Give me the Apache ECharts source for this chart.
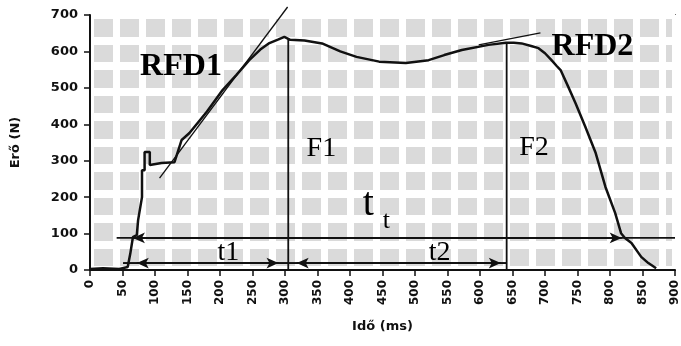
<!DOCTYPE html>
<html>
<head>
<meta charset="utf-8">
<script src="https://cdn.jsdelivr.net/npm/echarts@6/dist/echarts.min.js"></script>
<style>
  html, body { margin: 0; padding: 0; background: #fff; }
  #chart { width: 681px; height: 346px; }
</style>
</head>
<body>
<div id="chart"></div>
<script>
// force curve (time in ms, force in N)
var timeMs = [0, 20, 45, 58, 62, 66, 72, 74, 80, 80, 84, 84, 92, 92, 110, 130, 141, 153, 180, 204, 225, 245,
  262, 276, 290, 299, 308, 330, 357, 385, 410, 445, 486, 521, 545, 572, 613, 640, 652, 664, 680, 690,
  700, 710, 718, 724, 736, 747, 762, 778, 793, 808, 817, 823, 833, 848, 859, 871];
var forceN = [3, 5, 3, 8, 45, 90, 96, 137, 200, 274, 274, 324, 324, 288, 294, 296, 357, 376, 435, 494, 535, 576,
  605, 623, 633, 640, 632, 630, 622, 600, 585, 572, 568, 576, 590, 604, 618, 624, 624, 622, 614, 609,
  595, 576, 560, 549, 502, 458, 393, 321, 228, 156, 101, 88, 74, 36, 19, 5];

// tangent lines
var rfd1Line = [[107, 252], [304, 722]];
var rfd2Line = [[598, 618], [693, 651]];

// F1 / F2 markers
var f1Line = [[305, 0], [305, 636]];
var f2Line = [[641, 0], [641, 625]];

// time spans
var ttBase = [[41, 88], [900, 88]];
var ttArrow = [66, 818, 88];
var tBase = [[51, 19], [641, 19]];
var t1Arrow = [72, 290, 19];
var t2Arrow = [318, 632, 19];

// annotations: [x, y, text, style]
var notes = [
  [140, 557, 'RFD1', 'big'],
  [773, 612, 'RFD2', 'big'],
  [356, 332, 'F1', 'mid'],
  [683, 335, 'F2', 'mid'],
  [428, 180, 't', 'tt'],
  [456, 135, 't', 'sub'],
  [213, 49, 't1', 'small'],
  [538, 49, 't2', 'small']
];

var xTicks = { min: 0, max: 900, step: 50 };
var yTicks = { min: 0, max: 700, step: 100 };

var serif = 'Liberation Serif';
var noteStyles = {
  big: { fontFamily: serif, fontWeight: 'bold', fontSize: 32 },
  mid: { fontFamily: serif, fontWeight: 'normal', fontSize: 28 },
  tt: { fontFamily: serif, fontWeight: 'normal', fontSize: 40 },
  sub: { fontFamily: serif, fontWeight: 'normal', fontSize: 26 },
  small: { fontFamily: serif, fontWeight: 'normal', fontSize: 28 }
};

var curve = timeMs.map(function (t, i) { return [t, forceN[i]]; });

function plainLine(data, width) {
  return {
    type: 'line', data: data, symbol: 'none', silent: true, z: 3,
    lineStyle: { color: '#111', width: width || 1.5 }
  };
}

function arrowLine(data, a) {
  var s = plainLine(data, 1.8);
  s.markLine = {
    silent: true,
    symbol: ['arrow', 'arrow'],
    symbolSize: [8, 12],
    label: { show: false },
    lineStyle: { color: '#111', width: 1.8, type: 'solid' },
    data: [[{ coord: [a[0], a[2]] }, { coord: [a[1], a[2]] }]]
  };
  return s;
}

var myChart = echarts.init(document.getElementById('chart'));

var axisFont = { fontFamily: 'DejaVu Sans', fontWeight: 'bold', color: '#111' };

var option = {
  backgroundColor: '#fff',
  animation: false,
  grid: {
    left: 90, right: 4, top: 15, bottom: 76,
    show: true, backgroundColor: '#dadada', borderColor: '#111', borderWidth: 1.5
  },
  xAxis: [{
    type: 'value', min: xTicks.min, max: xTicks.max, interval: xTicks.step,
    name: 'Idő (ms)', nameLocation: 'middle', nameGap: 50,
    nameTextStyle: Object.assign({ fontSize: 13 }, axisFont),
    axisLine: { lineStyle: { color: '#111', width: 2 } },
    axisTick: { length: 6, lineStyle: { color: '#111', width: 1.5 } },
    axisLabel: Object.assign({ rotate: 90, fontSize: 12, margin: 10 }, axisFont),
    splitLine: { show: false }
  }, {
    type: 'value', min: 0, max: 900, interval: 40, position: 'top',
    axisLine: { show: false }, axisTick: { show: false }, axisLabel: { show: false },
    splitLine: { show: true, lineStyle: { color: '#fff', width: 7 } }
  }],
  yAxis: [{
    type: 'value', min: yTicks.min, max: yTicks.max, interval: yTicks.step,
    name: 'Erő (N)', nameLocation: 'middle', nameGap: 68, nameRotate: 90,
    nameTextStyle: Object.assign({ fontSize: 13 }, axisFont),
    axisLine: { show: true, lineStyle: { color: '#111', width: 2 } },
    axisTick: { show: true, length: 6, lineStyle: { color: '#111', width: 1.5 } },
    axisLabel: Object.assign({ fontSize: 13, margin: 12 }, axisFont),
    splitLine: { show: false }
  }, {
    type: 'value', min: 0, max: 700, interval: 70, position: 'right',
    axisLine: { show: false }, axisTick: { show: false }, axisLabel: { show: false },
    splitLine: { show: true, lineStyle: { color: '#fff', width: 8 } }
  }],
  series: [
    {
      type: 'line', data: curve, symbol: 'none', silent: true, z: 4,
      lineStyle: { color: '#111', width: 2.5 }
    },
    Object.assign(plainLine(rfd1Line, 1.3), { clip: false }),
    Object.assign(plainLine(rfd2Line, 1.3), { clip: false }),
    plainLine(f1Line, 1.8),
    plainLine(f2Line, 1.8),
    arrowLine(ttBase, ttArrow),
    arrowLine(tBase, t1Arrow),
    arrowLine(tBase, t2Arrow),
    {
      type: 'scatter', symbolSize: 0, silent: true, z: 5,
      itemStyle: { opacity: 1 },
      data: notes.map(function (n) {
        return {
          value: [n[0], n[1]],
          label: Object.assign({ show: true, position: 'inside', formatter: n[2], color: '#000' }, noteStyles[n[3]])
        };
      })
    }
  ]
};

myChart.setOption(option);
</script>
</body>
</html>
